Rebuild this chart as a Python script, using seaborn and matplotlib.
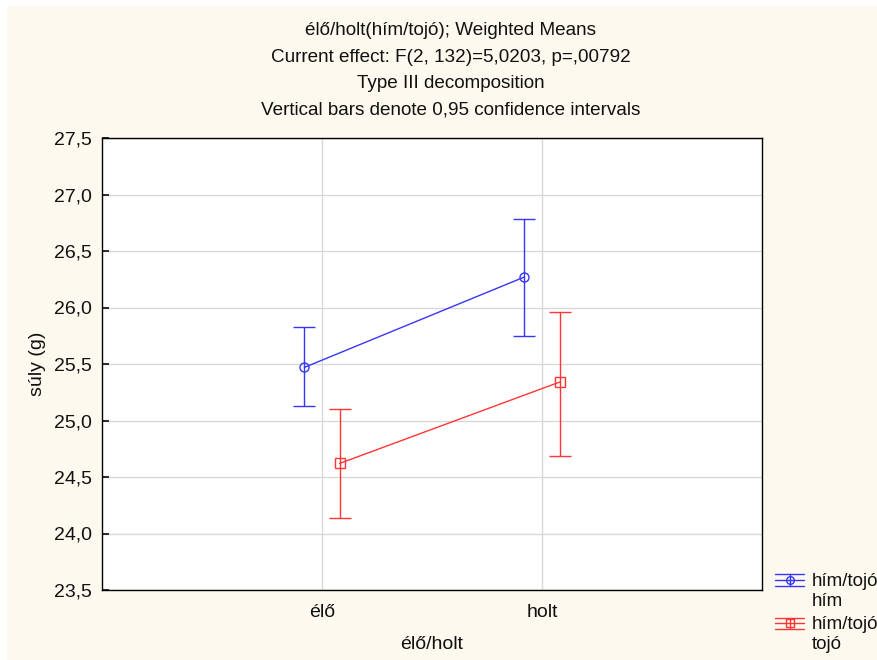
import matplotlib
matplotlib.use("Agg")
import matplotlib.pyplot as plt
import seaborn as sns
import pandas as pd
import numpy as np
from matplotlib.ticker import FuncFormatter
from matplotlib.lines import Line2D
from matplotlib.legend_handler import HandlerBase
from matplotlib.patches import Rectangle

# data
categories = ["élő", "holt"]
groups = ["hím/tojó\nhím", "hím/tojó\ntojó"]
him_mean = [25.47, 26.27]
him_low = [25.13, 25.75]
him_high = [25.83, 26.78]
tojo_mean = [24.62, 25.34]
tojo_low = [24.14, 24.69]
tojo_high = [25.10, 25.96]

sns.set_theme(style="white")
plt.rcParams['font.family'] = ['Liberation Sans', 'DejaVu Sans']
plt.rcParams['text.color'] = '#111111'
plt.rcParams['axes.labelcolor'] = '#111111'
plt.rcParams['xtick.color'] = '#111111'
plt.rcParams['ytick.color'] = '#111111'

bg = '#fdf9ef'
fig = plt.figure(figsize=(8.78, 6.60), dpi=100, facecolor='white')
fig.patches.append(Rectangle((7/878, -0.1), 1.2, 1.1 - 6/660, transform=fig.transFigure,
                             facecolor=bg, edgecolor='none', zorder=-10))
ax = fig.add_axes([102/878, 1 - 590/660, 660/878, 452/660])
ax.set_facecolor('white')

df = pd.DataFrame({
    "cat": categories * 2,
    "grp": [groups[0]] * 2 + [groups[1]] * 2,
    "mean": him_mean + tojo_mean,
    "low": him_low + tojo_low,
    "high": him_high + tojo_high,
})

colors = ['#3535ff', '#ff3535']
markers = ['o', 's']
dodge = 0.16
sns.pointplot(data=df, x="cat", y="mean", hue="grp", order=categories, hue_order=groups,
              palette=colors, dodge=dodge, errorbar=None, markers=markers,
              markersize=6.5, linewidth=1.0, legend=False, ax=ax)

offsets = [-dodge / 2, dodge / 2]
for i, (g, c) in enumerate(zip(groups, colors)):
    sub = df[df.grp == g]
    xs = np.arange(len(categories)) + offsets[i]
    m = sub["mean"].to_numpy()
    yerr = [m - sub["low"].to_numpy(), sub["high"].to_numpy() - m]
    ax.errorbar(xs, m, yerr=yerr, fmt='none', ecolor=c, elinewidth=1.0, capsize=8, capthick=1.0)

for line in ax.lines:
    line.set_markerfacecolor('none')
    line.set_markeredgewidth(1.0)

ax.set_xlim(-1, 2)
ax.set_ylim(23.5, 27.5)
ax.set_yticks(np.arange(23.5, 27.51, 0.5))
ax.yaxis.set_major_formatter(FuncFormatter(lambda v, p: f"{v:.1f}".replace('.', ',')))
ax.grid(True, color='#d8d8d8', linewidth=1.0)
ax.set_axisbelow(True)
for s in ax.spines.values():
    s.set_color('black')
    s.set_linewidth(1.0)
ax.tick_params(axis='y', direction='in', length=5, left=True, labelsize=14, pad=7)
ax.tick_params(axis='x', direction='in', length=0, labelsize=14, pad=10)
ax.set_xlabel("élő/holt", fontsize=14, labelpad=11)
ax.set_ylabel("súly (g)", fontsize=14, labelpad=6)

ax.set_title("élő/holt(hím/tojó); Weighted Means\nCurrent effect: F(2, 132)=5,0203, p=,00792\n"
             "Type III decomposition\nVertical bars denote 0,95 confidence intervals",
             fontsize=13.6, linespacing=1.72, pad=17, x=(451 - 102) / 660)


class ErrHandler(HandlerBase):
    def __init__(self, color, marker):
        super().__init__()
        self.color = color
        self.marker = marker

    def create_artists(self, legend, orig_handle, xdescent, ydescent, width, height, fontsize, trans):
        cy = height / 2 - ydescent + fontsize * 0.6
        x0, x1 = -xdescent, width - xdescent
        xm = (x0 + x1) / 2
        h = height * 0.42
        arts = []
        for yy in (cy - h, cy, cy + h):
            arts.append(Line2D([x0, x1], [yy, yy], color=self.color, lw=1.0, transform=trans))
        arts.append(Line2D([xm, xm], [cy - h, cy + h], color=self.color, lw=1.0, transform=trans))
        arts.append(Line2D([xm], [cy], color=self.color, marker=self.marker, markersize=5.5,
                           markerfacecolor='none', linestyle='none', transform=trans))
        return arts


handles = [Line2D([], [], color=c) for c in colors]
fig.legend(handles, groups, loc='upper left', bbox_to_anchor=(775/878, 1 - 573/660),
           frameon=False, fontsize=13.5, handlelength=1.55, handletextpad=0.43,
           labelspacing=0.35, borderaxespad=0, borderpad=0,
           handler_map={h: ErrHandler(c, mk) for h, c, mk in zip(handles, colors, markers)})

fig.savefig("out.png", dpi=100, facecolor='white')
